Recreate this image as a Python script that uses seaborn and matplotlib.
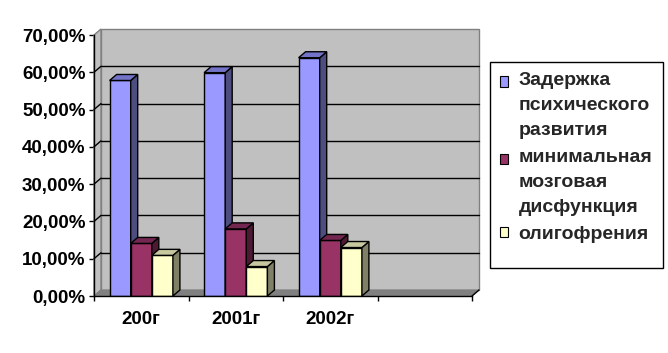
import matplotlib
matplotlib.use("Agg")
import matplotlib.pyplot as plt
import seaborn as sns
import pandas as pd
import numpy as np
from matplotlib.patches import Polygon, Rectangle, Patch
from matplotlib.lines import Line2D
from matplotlib.transforms import IdentityTransform, offset_copy
from matplotlib.ticker import FixedLocator, FuncFormatter
from matplotlib.legend_handler import HandlerPatch

# ---- data ----
categories = ["200г", "2001г", "2002г"]
series_names = ["Задержка\nпсихического\nразвития",
                "минимальная\nмозговая\nдисфункция",
                "олигофрения"]
zpr = [0.578, 0.599, 0.639]
mmd = [0.141, 0.180, 0.149]
olig = [0.109, 0.079, 0.130]
y_ticks = [0.0, 0.1, 0.2, 0.3, 0.4, 0.5, 0.6, 0.7]

front_colors = ["#9999FF", "#993366", "#FFFFCC"]
side_colors = ["#4D4D80", "#4D1933", "#808066"]
top_colors = ["#7373C8", "#732650", "#C8C8A0"]

sns.set_theme(style="white")
plt.rcParams["font.family"] = ["Liberation Sans", "DejaVu Sans"]
plt.rcParams["font.weight"] = "bold"

df = pd.DataFrame({
    "Год": categories * 3,
    "Серия": [s for s in series_names for _ in categories],
    "Значение": zpr + mmd + olig,
})

W, H = 668, 353
fig = plt.figure(figsize=(W / 100, H / 100), dpi=100)
fig.patch.set_facecolor("white")
ax = fig.add_axes([94 / W, 1 - 296 / H, 378 / W, 261 / H])
ax.set_facecolor("none")

sns.barplot(data=df, x="Год", y="Значение", hue="Серия", order=categories,
            hue_order=series_names, palette=front_colors, width=0.67,
            edgecolor="black", linewidth=1, saturation=1, ax=ax, legend=False)
bars = sorted(list(ax.patches), key=lambda p: p.get_x())

ax.set_xlim(-0.5, 3.5)
ax.set_ylim(0, 0.7)
ax.set_xlabel("")
ax.set_ylabel("")

# ---- axes styling ----
for s in ["top", "right"]:
    ax.spines[s].set_visible(False)
for s in ["left", "bottom"]:
    ax.spines[s].set_color("black")
    ax.spines[s].set_linewidth(1)
    ax.spines[s].set_zorder(5)

ax.yaxis.set_major_locator(FixedLocator(y_ticks))
ax.yaxis.set_major_formatter(FuncFormatter(lambda v, p: f"{v*100:.2f}%".replace(".", ",")))
ax.tick_params(axis="y", which="major", direction="out", length=3.6, width=1,
               color="black", labelsize=13.5, pad=2.5, left=True)
ax.set_xticks([0, 1, 2])
ax.set_xticklabels(categories)
ax.set_xticks([-0.5, 0.5, 1.5, 2.5, 3.5], minor=True)
ax.tick_params(axis="x", which="major", length=0, labelsize=13.5, pad=11)
ax.tick_params(axis="x", which="minor", direction="out", length=3.6, width=1,
               color="black", bottom=True)
for lab in ax.get_xticklabels() + ax.get_yticklabels():
    lab.set_fontweight("bold")
    lab.set_color("black")

# ---- 3D box (walls & floor) ----
DX, DY = 7, 6
d = np.array([DX, DY])
ident = IdentityTransform()
back = offset_copy(ax.transData, fig, x=DX, y=DY, units="dots")
backA = offset_copy(ax.transAxes, fig, x=DX, y=DY, units="dots")

ax.add_patch(Rectangle((0, 0), 1, 1, transform=backA, facecolor="#C0C0C0",
                       edgecolor="#808080", linewidth=1, zorder=0.5, clip_on=False))
F0 = ax.transAxes.transform((0, 0))
F1 = ax.transAxes.transform((0, 1))
R0 = ax.transAxes.transform((1, 0))
ax.add_patch(Polygon([F0, F1, F1 + d, F0 + d], closed=True, transform=ident,
                     facecolor="#C0C0C0", edgecolor="#808080", linewidth=1,
                     zorder=0.55, clip_on=False))
ax.add_patch(Polygon([F0, R0, R0 + d, F0 + d], closed=True, transform=ident,
                     facecolor="#808080", edgecolor="#808080", linewidth=0.8,
                     zorder=0.7, clip_on=False))
ax.add_line(Line2D([R0[0], R0[0] + DX], [R0[1], R0[1] + DY], transform=ident,
                   color="black", linewidth=1, zorder=0.75, clip_on=False))
for v in y_ticks[1:-1]:
    ax.plot([-0.5, 3.5], [v, v], transform=back, color="black", linewidth=1,
            zorder=0.6, clip_on=False)
    p = ax.transData.transform((-0.5, v))
    ax.add_line(Line2D([p[0], p[0] + DX], [p[1], p[1] + DY], transform=ident,
                       color="black", linewidth=1, zorder=0.6, clip_on=False))

# ---- 3D bar faces ----
for i, bar in enumerate(bars):
    k = i % 3
    x0, y0, w, h = bar.get_x(), bar.get_y(), bar.get_width(), bar.get_height()
    z = 2 + i * 0.01
    bar.set_zorder(z)
    p0 = ax.transData.transform((x0, y0 + h))
    p1 = ax.transData.transform((x0 + w, y0 + h))
    p2 = ax.transData.transform((x0 + w, y0))
    ax.add_patch(Polygon([p2, p1, p1 + d, p2 + d], closed=True, transform=ident,
                         facecolor=side_colors[k], edgecolor="black", linewidth=1,
                         zorder=z, clip_on=False))
    ax.add_patch(Polygon([p0, p1, p1 + d, p0 + d], closed=True, transform=ident,
                         facecolor=top_colors[k], edgecolor="black", linewidth=1,
                         zorder=z, clip_on=False))

# ---- legend ----
LINESPACING = 1.63
LP_ASCENT = 0.74


class FirstLineHandler(HandlerPatch):
    """Square legend key aligned with the first line of a multi-line label."""

    def __init__(self, nlines, **kw):
        super().__init__(**kw)
        self.nlines = nlines

    def create_artists(self, legend, orig_handle, xdescent, ydescent, width,
                       height, fontsize, trans):
        shift = (self.nlines - 1) / 2 * LINESPACING * LP_ASCENT * fontsize
        r = Rectangle((-xdescent, -ydescent + shift), width, height,
                      facecolor=orig_handle.get_facecolor(),
                      edgecolor="black", linewidth=0.8, transform=trans)
        return [r]


handles = [Patch(facecolor=c, edgecolor="black") for c in front_colors]
hmap = {h: FirstLineHandler(len(lbl.split("\n"))) for h, lbl in zip(handles, series_names)}

frame = Rectangle((490 / W, 1 - 268 / H), 173 / W, 206 / H, transform=fig.transFigure,
                  facecolor="white", edgecolor="black", linewidth=1, zorder=1)
fig.patches.append(frame)

leg = fig.legend(handles, series_names, handler_map=hmap, loc="upper left",
                 bbox_to_anchor=(490 / W, 1 - 62 / H), bbox_transform=fig.transFigure,
                 frameon=False, borderaxespad=0,
                 prop={"size": 14, "weight": "bold"}, handlelength=0.42,
                 handleheight=0.42, handletextpad=0.55, labelspacing=0.5,
                 borderpad=0.5)
leg.set_zorder(3)
for t in leg.get_texts():
    t.set_linespacing(LINESPACING)

fig.savefig("out.png", dpi=100)
